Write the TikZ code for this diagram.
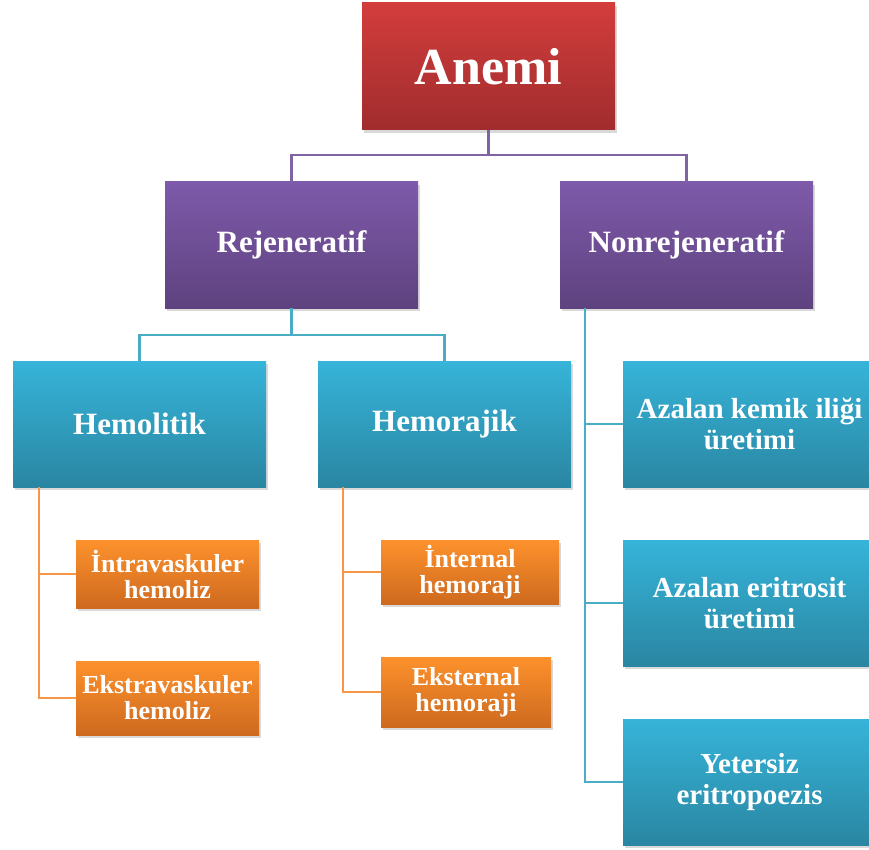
\documentclass[tikz,border=0pt]{standalone}
\usepackage{fontspec}
\setmainfont{Liberation Serif}
\usetikzlibrary{shadows,calc}

\definecolor{redtop}{HTML}{D23D3C}
\definecolor{redbot}{HTML}{A12C2D}
\definecolor{purtop}{HTML}{7E5AAA}
\definecolor{purbot}{HTML}{5E427F}
\definecolor{teatop}{HTML}{36B4D9}
\definecolor{teabot}{HTML}{2A86A2}
\definecolor{orgtop}{HTML}{FD912C}
\definecolor{orgbot}{HTML}{CE6A1F}
\definecolor{purline}{HTML}{8064A2}
\definecolor{tealine}{HTML}{4BACC6}
\definecolor{orgline}{HTML}{F79646}

\tikzset{
  box/.style={rectangle, inner sep=0pt, align=center, text=white,
    font=\bfseries, drop shadow={shadow xshift=2pt, shadow yshift=-3pt, opacity=0.3}},
  redbox/.style={box, top color=redtop, bottom color=redbot},
  purbox/.style={box, top color=purtop, bottom color=purbot,
    minimum width=253pt, minimum height=126pt},
  teabox/.style={box, top color=teatop, bottom color=teabot,
    minimum width=253pt, minimum height=126pt},
  orgbox/.style={box, top color=orgtop, bottom color=orgbot},
  link/.style={line width=2.3pt}
}

\begin{document}
\begin{tikzpicture}[x=1pt, y=-1pt]
    \useasboundingbox (0,0) rectangle (869,850);
    \clip (0,0) rectangle (869,850);

    % Root
    \node[redbox, minimum width=253pt, minimum height=127pt,
      font=\bfseries\fontsize{52}{52}\selectfont] (anemi) at (488.5,66.5) {Anemi};

    % Second level
    \node[purbox, font=\bfseries\fontsize{31}{31}\selectfont] (rej) at (291.5,245) {Rejeneratif};
    \node[purbox, font=\bfseries\fontsize{31}{31}\selectfont] (nonrej) at (686.5,245) {Nonrejeneratif};

    % Third level
    \node[teabox, font=\bfseries\fontsize{31}{31}\selectfont] (hemolitik) at (139.5,424) {Hemolitik};
    \node[teabox, font=\bfseries\fontsize{31}{31}\selectfont] (hemorajik) at (444.5,424) {Hemorajik};
    \node[teabox, font=\bfseries\fontsize{29}{31}\selectfont] (kemik) at (749.5,424) {Azalan kemik iliği\\üretimi};
    \node[teabox, font=\bfseries\fontsize{29}{31}\selectfont] (eritrosit) at (749.5,603) {Azalan eritrosit\\üretimi};
    \node[teabox, font=\bfseries\fontsize{29}{31}\selectfont] (yetersiz) at (749.5,782) {Yetersiz\\eritropoezis};

    % Leaves
    \node[orgbox, minimum width=183pt, minimum height=68pt,
      font=\bfseries\fontsize{26}{26}\selectfont] (intra) at (167.5,574) {İntravaskuler\\hemoliz};
    \node[orgbox, minimum width=183pt, minimum height=74pt,
      font=\bfseries\fontsize{26}{26}\selectfont] (ekstra) at (167.5,698) {Ekstravaskuler\\hemoliz};
    \node[orgbox, minimum width=178pt, minimum height=64pt,
      font=\bfseries\fontsize{26}{26}\selectfont] (internal) at (470,572) {İnternal\\hemoraji};
    \node[orgbox, minimum width=170pt, minimum height=70pt,
      font=\bfseries\fontsize{26}{26}\selectfont] (eksternal) at (466,692) {Eksternal\\hemoraji};

    % Draw connectors
    \draw[link, purline] (anemi.south) -- ++(0,25) -| (rej.north);
    \draw[link, purline] (anemi.south) -- ++(0,25) -| (nonrej.north);
    \draw[link, tealine] (rej.south) -- ++(0,27) -| (hemolitik.north);
    \draw[link, tealine] (rej.south) -- ++(0,27) -| (hemorajik.north);

    \coordinate (hl) at ($(hemolitik.south west)+(26,0)$);
    \draw[link, orgline] (hl) |- (intra.west);
    \draw[link, orgline] (hl) |- (ekstra.west);
    \coordinate (hr) at ($(hemorajik.south west)+(25,0)$);
    \draw[link, orgline] (hr) |- (internal.west);
    \draw[link, orgline] (hr) |- (eksternal.west);

    \coordinate (nr) at ($(nonrej.south west)+(25,0)$);
    \draw[link, tealine] (nr) |- (kemik.west);
    \draw[link, tealine] (nr) |- (eritrosit.west);
    \draw[link, tealine] (nr) |- (yetersiz.west);
\end{tikzpicture}
\end{document}
